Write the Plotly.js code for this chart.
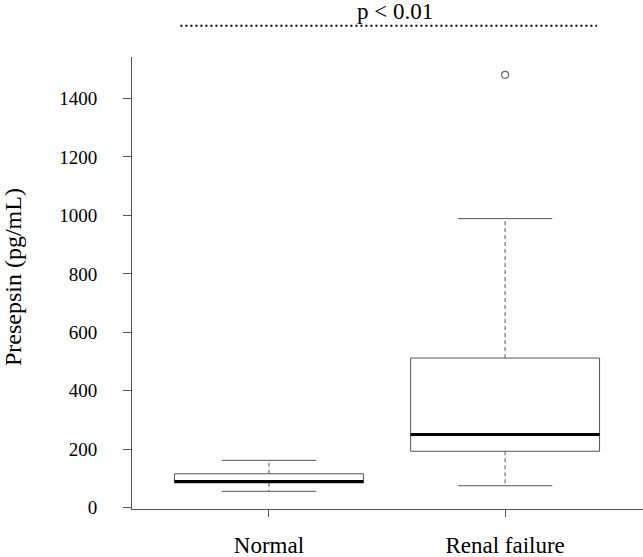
<!DOCTYPE html>
<html>
<head>
<meta charset="utf-8">
<script src="https://cdn.plot.ly/plotly-3.0.1.min.js"></script>
<style>
  html, body { margin: 0; padding: 0; background: #fff; }
  #chart { width: 643px; height: 557px; }
</style>
</head>
<body>
<div id="chart"></div>
<script>
// Box statistics (pg/mL)
const groups = ["Normal", "Renal failure"];
const lowerWhisker = [56, 75];
const q1 = [85, 193];
const median = [90, 250];
const q3 = [116, 512];
const upperWhisker = [162, 989];
const outliers = [[], [1481]];

const yTicks = [0, 200, 400, 600, 800, 1000, 1200, 1400];

const serif = "Liberation Serif, Times New Roman, serif";
const boxColor = "#555";
const halfBox = 0.4;
const halfCap = 0.2;

let traces = [];

// R style boxplot drawn piece by piece
for (let i = 0; i < groups.length; i++) {
    const p = i + 1;

    // dashed whiskers
    traces.push({
        x: [p, p, null, p, p],
        y: [q3[i], upperWhisker[i], null, q1[i], lowerWhisker[i]],
        mode: "lines",
        line: { color: boxColor, width: 1, dash: "4px,3px" },
        hoverinfo: "skip"
    });

    // whisker caps
    traces.push({
        x: [p - halfCap, p + halfCap, null, p - halfCap, p + halfCap],
        y: [upperWhisker[i], upperWhisker[i], null, lowerWhisker[i], lowerWhisker[i]],
        mode: "lines",
        line: { color: boxColor, width: 1 },
        hoverinfo: "skip"
    });

    // the box
    traces.push({
        x: [p - halfBox, p + halfBox, p + halfBox, p - halfBox, p - halfBox],
        y: [q1[i], q1[i], q3[i], q3[i], q1[i]],
        mode: "lines",
        fill: "toself",
        fillcolor: "#fff",
        line: { color: boxColor, width: 1 },
        name: groups[i]
    });

    // thick median
    traces.push({
        x: [p - halfBox, p + halfBox],
        y: [median[i], median[i]],
        mode: "lines",
        line: { color: "#000", width: 3 },
        hoverinfo: "skip"
    });

    // outliers
    if (outliers[i].length) {
        traces.push({
            x: outliers[i].map(() => p),
            y: outliers[i],
            mode: "markers",
            marker: { symbol: "circle-open", size: 7, color: "#666", line: { width: 1.2 } }
        });
    }
}

const layout = {
    width: 643,
    height: 557,
    margin: { l: 132, r: 0, t: 57, b: 48 },
    paper_bgcolor: "#fff",
    plot_bgcolor: "#fff",
    showlegend: false,
    font: { family: serif, color: "#000" },
    xaxis: {
        range: [0.42, 2.584],
        tickvals: groups.map((g, i) => i + 1),
        ticktext: groups,
        ticks: "outside",
        ticklen: 7,
        tickcolor: "#555",
        showline: true,
        linecolor: "#555",
        linewidth: 1,
        showgrid: false,
        zeroline: false,
        tickfont: { family: serif, size: 23, color: "#000" },
        ticklabelstandoff: 8
    },
    yaxis: {
        range: [-4.5, 1542],
        tickvals: yTicks,
        ticks: "outside",
        ticklen: 8,
        tickcolor: "#555",
        showline: true,
        linecolor: "#555",
        linewidth: 1,
        showgrid: false,
        zeroline: false,
        tickfont: { family: serif, size: 19, color: "#000" },
        ticklabelstandoff: 22
    },
    shapes: [{
        type: "line",
        xref: "x", yref: "paper",
        x0: 0.625, x1: 2.389,
        y0: 1.0693, y1: 1.0693,
        line: { color: "#000", width: 2, dash: "2px,3px" }
    }],
    annotations: [{
        text: "p < 0.01",
        xref: "paper", yref: "paper",
        x: 0.5147, y: 1.0996,
        xanchor: "center", yanchor: "middle",
        showarrow: false,
        font: { family: serif, size: 23, color: "#000" }
    }, {
        // y axis title, placed like R's ylab
        text: "Presepsin (pg/mL)",
        xref: "paper", yref: "paper",
        x: -0.233, y: 0.513,
        xanchor: "center", yanchor: "middle",
        textangle: -90,
        showarrow: false,
        font: { family: serif, size: 24, color: "#000" }
    }]
};

Plotly.newPlot("chart", traces, layout, { displayModeBar: false, staticPlot: true });
</script>
</body>
</html>
